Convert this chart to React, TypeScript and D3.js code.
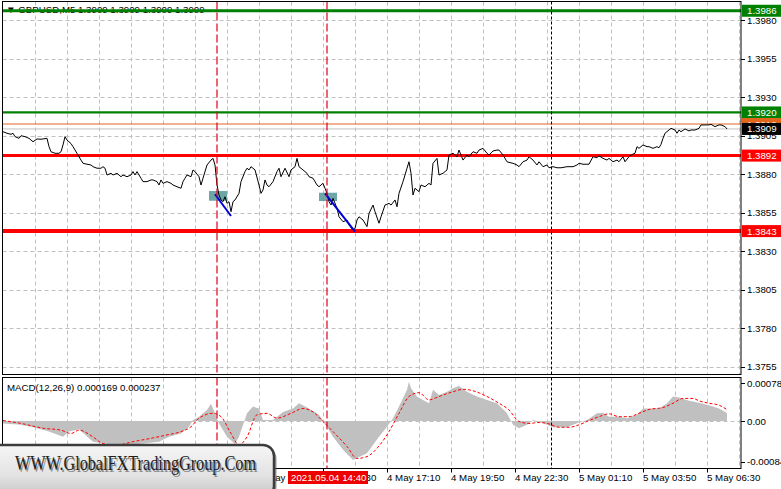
import React from 'react';
import * as d3 from 'd3';

// ---------- DATA ----------
// bar index (M5 bars, 0 = 4 May 01:10) and close price
const barIndex = [0,2,4,5,6,8,9,11,13,14,15,17,19,22,23,24,26,28,29,30,31,32,34,35,37,39,40,42,44,45,47,49,50,51,52,54,55,57,59,60,62,64,65,66,67,69,70,72,74,75,77,78,79,80,82,84,85,87,89,90,91,92,94,95,96,98,99,100,102,104,105,106,107,108,109,110,111,112,113,114,115,116,118,119,121,122,123,124,126,128,129,130,131,132,133,135,137,138,139,141,143,144,146,147,148,150,152,153,155,157,158,160,161,162,163,164,165,167,168,170,172,173,175,176,177,178,180,182,183,185,186,188,189,191,193,194,196,197,198,200,202,203,204,205,206,208,209,211,213,214,215,217,218,220,222,223,225,227,228,230,232,233,235,237,238,240,242,243,245,247,248,250,252,253,255,257,258,260,262,263,265,267,268,270,272,273,275,277,279,282,285,287,288,290,292,293,295,297,298,300,302,303,305,307,308,310,311,313,314,316,317,318,320,322,323,325,327,328,329,330,331,333,334,336,337,338,339,341,343,344,346,348,349,351,353,354,356,358,359,361,362];
const closePrice = [1.39075,1.39065,1.39058,1.39065,1.39043,1.39032,1.39049,1.39043,1.39032,1.39021,1.39010,1.39028,1.39026,1.39032,1.38978,1.38945,1.38935,1.38935,1.38945,1.38989,1.39043,1.39021,1.38998,1.38978,1.38935,1.38891,1.38870,1.38864,1.38859,1.38848,1.38838,1.38838,1.38848,1.38838,1.38794,1.38805,1.38794,1.38805,1.38783,1.38794,1.38783,1.38794,1.38816,1.38794,1.38816,1.38773,1.38751,1.38751,1.38762,1.38762,1.38751,1.38729,1.38762,1.38740,1.38751,1.38740,1.38729,1.38718,1.38708,1.38751,1.38773,1.38794,1.38783,1.38827,1.38816,1.38783,1.38729,1.38773,1.38859,1.38891,1.38902,1.38859,1.38729,1.38664,1.38632,1.38621,1.38653,1.38610,1.38621,1.38556,1.38621,1.38632,1.38675,1.38751,1.38816,1.38838,1.38827,1.38848,1.38827,1.38729,1.38675,1.38697,1.38762,1.38729,1.38718,1.38751,1.38816,1.38838,1.38783,1.38838,1.38783,1.38827,1.38848,1.38902,1.38848,1.38827,1.38805,1.38783,1.38773,1.38729,1.38718,1.38740,1.38708,1.38675,1.38621,1.38599,1.38643,1.38578,1.38523,1.38491,1.38502,1.38470,1.38437,1.38448,1.38502,1.38523,1.38502,1.38459,1.38545,1.38599,1.38556,1.38481,1.38523,1.38599,1.38610,1.38599,1.38632,1.38588,1.38675,1.38751,1.38838,1.38880,1.38805,1.38664,1.38708,1.38686,1.38729,1.38718,1.38740,1.38729,1.38870,1.38902,1.38794,1.38805,1.38827,1.38924,1.38935,1.38913,1.38956,1.38891,1.38924,1.38913,1.38945,1.38935,1.38956,1.38967,1.38935,1.38924,1.38950,1.38956,1.38956,1.38924,1.38880,1.38876,1.38870,1.38859,1.38848,1.38880,1.38891,1.38913,1.38891,1.38859,1.38880,1.38848,1.38859,1.38841,1.38848,1.38841,1.38841,1.38848,1.38848,1.38859,1.38870,1.38864,1.38864,1.38864,1.38913,1.38906,1.38919,1.38902,1.38891,1.38902,1.38880,1.38891,1.38880,1.38913,1.38880,1.38913,1.38924,1.38935,1.38978,1.38967,1.38989,1.38978,1.38978,1.38967,1.38978,1.38971,1.38993,1.39032,1.39065,1.39086,1.39097,1.39086,1.39065,1.39086,1.39075,1.39093,1.39080,1.39086,1.39086,1.39097,1.39119,1.39119,1.39119,1.39123,1.39108,1.39119,1.39119,1.39108,1.39093];

// MACD histogram (main) readings
const histIndex = [0,9,15,23,30,33,38,45,53,62,70,78,83,89,93,95,98,102,104,106,108,112,116,118,122,125,128,130,135,140,145,148,153,158,161,165,170,175,182,188,192,195,198,202,203,204,207,210,213,215,218,222,225,228,232,237,242,247,252,255,258,262,265,268,272,275,282,285,288,292,297,300,303,308,312,317,320,323,328,332,335,338,343,348,353,358,362];
const histValue = [-0.00005,-0.00008,-0.00013,-0.00022,-0.00033,-0.00022,-0.00017,-0.00043,-0.00048,-0.00050,-0.00047,-0.00043,-0.00033,-0.00026,-0.00012,0.00002,0.00009,0.00023,0.00036,0.00016,-0.00005,-0.00033,-0.00048,-0.00033,0.00016,0.00030,0.00026,0.00002,0.00002,0.00019,0.00026,0.00037,0.00026,0.00013,-0.00005,-0.00033,-0.00060,-0.00081,-0.00067,-0.00033,-0.00012,0.00006,0.00030,0.00065,0.00082,0.00068,0.00051,0.00044,0.00037,0.00065,0.00054,0.00061,0.00068,0.00073,0.00061,0.00051,0.00044,0.00037,0.00016,-0.00008,-0.00015,-0.00008,0.00002,-0.00001,-0.00008,-0.00013,-0.00013,-0.00008,-0.00003,0.00002,0.00016,0.00017,0.00009,0.00009,0.00006,0.00013,0.00026,0.00026,0.00026,0.00037,0.00051,0.00049,0.00042,0.00038,0.00033,0.00026,0.000169];

// MACD signal line readings
const sigIndex = [0,9,20,29,34,38,45,50,57,65,74,82,89,94,98,105,109,114,118,122,127,132,137,144,150,155,160,165,172,177,182,188,193,198,203,208,213,218,225,230,235,242,248,253,258,263,268,273,278,283,288,293,298,303,308,313,318,323,330,335,340,345,348,353,358,362];
const sigValue = [0.00001,-0.00005,-0.00015,-0.00019,-0.00026,-0.00019,-0.00033,-0.00047,-0.00050,-0.00043,-0.00036,-0.00029,-0.00022,-0.00012,0.00006,0.00016,0.00009,-0.00026,-0.00050,-0.00033,0.00013,0.00016,0.00006,0.00016,0.00026,0.00019,-0.00001,-0.00022,-0.00053,-0.00078,-0.00074,-0.00052,-0.00022,0.00016,0.00051,0.00059,0.00044,0.00051,0.00061,0.00066,0.00063,0.00051,0.00037,0.00023,-0.00001,-0.00005,-0.00003,-0.00006,-0.00013,-0.00013,-0.00008,0.00001,0.00009,0.00015,0.00009,0.00009,0.00016,0.00024,0.00028,0.00037,0.00047,0.00047,0.00042,0.00037,0.00033,0.000237];

// axis ticks
const priceTicks = [1.3755,1.3780,1.3805,1.3830,1.3855,1.3880,1.3905,1.3930,1.3955,1.3980];
const timeTickIndex = [0,32,64,96,128,160,192,224,256,288,320,352];
const timeTickLabels = ['4 May 2021','4 May 03:50','4 May 06:30','4 May 09:10','4 May 11:50','4 May 14:30','4 May 17:10','4 May 19:50','4 May 22:30','5 May 01:10','5 May 03:50','5 May 06:30'];
const macdAxisValues = [0.000783, 0, -0.000847];
const macdAxisLabels = ['0.000783','0.00','-0.000847'];

// horizontal levels
const levelPrices = [1.3986, 1.3920, 1.39125, 1.3892, 1.3843];
const levelLabels = ['1.3986','1.3920','1.3912','1.3892','1.3843'];
const bidPrice = 1.39093;
const bidLabel = '1.3909';

// vertical lines
const signalVLines = [107, 162];
const daySeparators = [274];
const selectedTimeLabel = '2021.05.04 14:40';
const selectedTimeIndex = 162;

// signal zones and arrows
const zoneStart = [103, 158];
const zoneEnd = [112, 167];
const zoneTop = [1.38690, 1.38679];
const zoneBottom = [1.38627, 1.38625];
const arrowStartIdx = [106, 161];
const arrowStartPrice = [1.38669, 1.38675];
const arrowEndIdx = [114, 176];
const arrowEndPrice = [1.38528, 1.38426];

const titleText = '\u25BC GBPUSD,M5  1.3909 1.3909 1.3909 1.3909';
const macdTitle = 'MACD(12,26,9) 0.000169 0.000237';
const logoText = 'WWW.GlobalFXTradingGroup.Com';

export default function App() {
  const W = 781, H = 489;
  const L = 2.5, R = 741;
  const mainTop = 1.5, mainBot = 374.5;
  const macdTop = 377.5, macdBot = 468.5;
  const font = 'Liberation Sans, Arial, sans-serif';
  const fs = 9.7;

  const x = d3.scaleLinear().domain([0, 352]).range([3, 707]);
  const y = d3.scaleLinear().domain([1.3755, 1.3980]).range([366.7, 20]);
  const ym = d3.scaleLinear().domain([-0.000847, 0.000783]).range([461.7, 383.4]);

  const priceLine = d3.line<number>().x((_, k) => x(barIndex[k])).y(d => y(d))(closePrice) || '';
  const histArea = d3.area<number>().x((_, k) => x(histIndex[k])).y0(ym(0)).y1(d => ym(d))(histValue) || '';
  const sigLine = d3.line<number>().x((_, k) => x(sigIndex[k])).y(d => ym(d)).curve(d3.curveMonotoneX)(sigValue) || '';

  const levelColors = ['#008000', '#008000', '#e2661e', '#ff0000', '#ff0000'];
  const levelWidths = [3, 2.2, 1, 3, 4];

  const gridV: number[] = [];
  for (let i = 16; i <= 368; i += 16) gridV.push(i);

  const gridColor = '#c0c0c0';
  const vRed = '#e00018';

  return (
    <svg width={W} height={H} style={{ position: 'fixed', left: 0, top: 0, display: 'block', background: '#fff' }}
      fontFamily={font}>
      <defs>
        <clipPath id="mainClip"><rect x={L} y={mainTop} width={R - L} height={mainBot - mainTop} /></clipPath>
        <clipPath id="macdClip"><rect x={L} y={macdTop} width={R - L} height={macdBot - macdTop} /></clipPath>
        <linearGradient id="logoGrad" x1="0" y1="0" x2="0" y2="1">
          <stop offset="0" stopColor="#f6f6f6" />
          <stop offset="0.6" stopColor="#e2e2e2" />
          <stop offset="1" stopColor="#c4c4c4" />
        </linearGradient>
      </defs>
      <rect x={0} y={0} width={W} height={H} fill="#fff" />

      {/* ---------- main panel ---------- */}
      <g clipPath="url(#mainClip)">
        {priceTicks.map(p => (
          <line key={'hg' + p} x1={L} x2={R} y1={Math.round(y(p)) + 0.5} y2={Math.round(y(p)) + 0.5}
            stroke={gridColor} strokeDasharray="4,3" />
        ))}
        {gridV.map(i => (
          <line key={'vg' + i} x1={x(i) + 0.5} x2={x(i) + 0.5} y1={mainTop} y2={mainBot}
            stroke={gridColor} strokeDasharray="4,3" />
        ))}
        <text x={6} y={12.5} fontSize={fs} fill="#000">{titleText}</text>
        {zoneStart.map((s, k) => (
          <rect key={'z' + k} x={x(s)} y={y(zoneTop[k])} width={x(zoneEnd[k]) - x(s)}
            height={y(zoneBottom[k]) - y(zoneTop[k])} fill="#5f9ea0" opacity={0.92} />
        ))}
        <line x1={L} x2={R} y1={y(bidPrice)} y2={y(bidPrice)} stroke="#c0c0c0" strokeWidth={1} />
        {levelPrices.map((p, k) => (
          <line key={'lv' + k} x1={L} x2={R} y1={y(p)} y2={y(p)} stroke={levelColors[k]} strokeWidth={levelWidths[k]} />
        ))}
        <path d={priceLine} fill="none" stroke="#000" strokeWidth={1} />
        {arrowStartIdx.map((s, k) => (
          <line key={'ar' + k} x1={x(s)} y1={y(arrowStartPrice[k])} x2={x(arrowEndIdx[k])} y2={y(arrowEndPrice[k])}
            stroke="#0000d8" strokeWidth={2} />
        ))}
      </g>

      {/* ---------- MACD panel ---------- */}
      <g clipPath="url(#macdClip)">
        {gridV.map(i => (
          <line key={'mvg' + i} x1={x(i) + 0.5} x2={x(i) + 0.5} y1={macdTop} y2={macdBot}
            stroke={gridColor} strokeDasharray="4,3" />
        ))}
        <path d={histArea} fill="#c0c0c0" stroke="none" />
        <line x1={L} x2={R} y1={Math.round(ym(0)) + 0.5} y2={Math.round(ym(0)) + 0.5} stroke={gridColor} strokeDasharray="4,3" />
        <path d={sigLine} fill="none" stroke="#ff0000" strokeWidth={1} strokeDasharray="3,2" />
        <text x={7} y={391} fontSize={fs} fill="#000">{macdTitle}</text>
      </g>

      {/* vertical object lines through both panels */}
      {signalVLines.map(i => (
        <g key={'sv' + i}>
          <line x1={x(i)} x2={x(i)} y1={mainTop} y2={mainBot} stroke={vRed} strokeWidth={1.2} strokeDasharray="8,3" />
          <line x1={x(i)} x2={x(i)} y1={macdTop} y2={macdBot} stroke={vRed} strokeWidth={1.2} strokeDasharray="8,3" />
        </g>
      ))}
      {daySeparators.map(i => (
        <g key={'ds' + i}>
          <line x1={x(i) + 0.5} x2={x(i) + 0.5} y1={mainTop} y2={mainBot} stroke="#000" strokeDasharray="3,2" />
          <line x1={x(i) + 0.5} x2={x(i) + 0.5} y1={macdTop} y2={macdBot} stroke="#000" strokeDasharray="3,2" />
        </g>
      ))}

      {/* borders */}
      <rect x={L} y={mainTop} width={R - L} height={mainBot - mainTop} fill="none" stroke="#000" strokeWidth={1} />
      <rect x={L} y={macdTop} width={R - L} height={macdBot - macdTop} fill="none" stroke="#000" strokeWidth={1} />

      {/* price axis */}
      {priceTicks.map(p => (
        <g key={'pt' + p}>
          <line x1={R} x2={R + 4} y1={Math.round(y(p)) + 0.5} y2={Math.round(y(p)) + 0.5} stroke="#000" />
          <text x={747} y={y(p) + 3.5} fontSize={fs} fill="#000">{p.toFixed(4)}</text>
        </g>
      ))}
      {levelPrices.map((p, k) => (
        <g key={'ll' + k}>
          <rect x={742} y={y(p) - 6} width={40} height={12} fill={levelColors[k]} />
          <text x={747} y={y(p) + 3.5} fontSize={fs} fill="#fff">{levelLabels[k]}</text>
        </g>
      ))}
      <rect x={742} y={y(bidPrice) - 6} width={40} height={12} fill="#000" />
      <text x={747} y={y(bidPrice) + 3.5} fontSize={fs} fill="#fff">{bidLabel}</text>

      {/* MACD axis */}
      {macdAxisValues.map((v, k) => (
        <g key={'ma' + k}>
          <line x1={R} x2={R + 4} y1={Math.round(ym(v)) + 0.5} y2={Math.round(ym(v)) + 0.5} stroke="#000" />
          <text x={747} y={ym(v) + 3.5} fontSize={fs} fill="#000">{macdAxisLabels[k]}</text>
        </g>
      ))}

      {/* time axis */}
      {timeTickIndex.map((i, k) => (
        <g key={'tt' + i}>
          <line x1={x(i) + 0.5} x2={x(i) + 0.5} y1={macdBot} y2={macdBot + 4} stroke="#000" />
          <text x={x(i)} y={481} fontSize={fs} fill="#000">{timeTickLabels[k]}</text>
        </g>
      ))}
      <rect x={x(selectedTimeIndex) - 39} y={471} width={80} height={13} fill="#ee0000" />
      <text x={x(selectedTimeIndex) - 36} y={481} fontSize={fs} fill="#fff">{selectedTimeLabel}</text>

      {/* logo */}
      <g>
        <rect x={-12} y={446} width={287} height={52} rx={11} fill="#555" opacity={0.6} transform="translate(1.5,1.5)" />
        <rect x={-12} y={445} width={286} height={52} rx={11} fill="url(#logoGrad)" stroke="#3c3c3c" strokeWidth={2.5} />
        <text x={16.5} y={471.5} fontSize={21} fontFamily="Liberation Serif, Times New Roman, serif" fill="#8a8a8a"
          textLength={241} lengthAdjust="spacingAndGlyphs">{logoText}</text>
        <text x={15} y={470} fontSize={21} fontFamily="Liberation Serif, Times New Roman, serif" fill="#1e1e1e"
          textLength={241} lengthAdjust="spacingAndGlyphs">{logoText}</text>
      </g>
    </svg>
  );
}
